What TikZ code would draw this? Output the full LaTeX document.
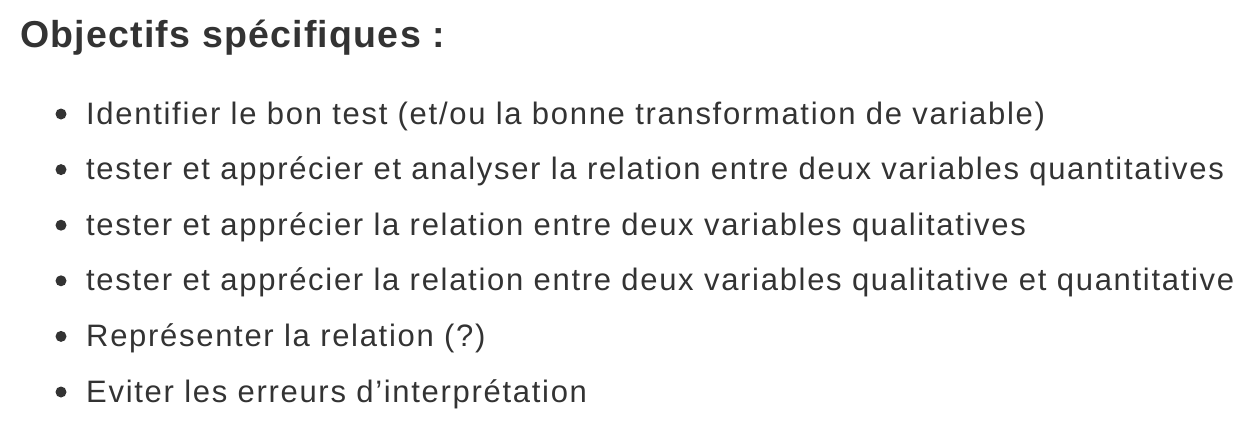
\documentclass[tikz,border=0pt]{standalone}
\usepackage{fontspec}
\setmainfont{Liberation Sans}
\newfontfamily\itemfont[LetterSpace=5.5]{Liberation Sans}
\newfontfamily\titlefont[LetterSpace=3.3]{Liberation Sans}
\definecolor{txtgray}{RGB}{51,51,51}
\tikzset{
  bulletdot/.style={circle,fill=txtgray,inner sep=0pt,minimum size=11pt},
  itemtext/.style={anchor=base west,inner sep=0pt,text=txtgray,font=\itemfont\fontsize{31}{36}\selectfont},
  titletext/.style={anchor=base west,inner sep=0pt,text=txtgray,font=\titlefont\fontsize{37.5}{44}\selectfont\bfseries}
}
\begin{document}
\begin{tikzpicture}[x=1pt,y=1pt,yscale=-1,xscale=1]
\path[use as bounding box] (0,0) rectangle (1258,434);

% Title
\node[titletext] (titre) at (20,47) {Objectifs spécifiques :};

% Bullets
\node[bulletdot] (b1) at (61,114) {};
\node[bulletdot] (b2) at (61,169.6) {};
\node[bulletdot] (b3) at (61,225.2) {};
\node[bulletdot] (b4) at (61,280.8) {};
\node[bulletdot] (b5) at (61,336.4) {};
\node[bulletdot] (b6) at (61,392) {};

% Text Nodes
\node[itemtext] (t1) at (86,124) {Identifier le bon test (et/ou la bonne transformation de variable)};
\node[itemtext] (t2) at (86,179.6) {tester et apprécier et analyser la relation entre deux variables quantitatives};
\node[itemtext] (t3) at (86,235.2) {tester et apprécier la relation entre deux variables qualitatives};
\node[itemtext] (t4) at (86,290.8) {tester et apprécier la relation entre deux variables qualitative et quantitative};
\node[itemtext] (t5) at (86,346.4) {Représenter la relation (?)};
\node[itemtext] (t6) at (86,402) {Eviter les erreurs d’interprétation};

\end{tikzpicture}
\end{document}
